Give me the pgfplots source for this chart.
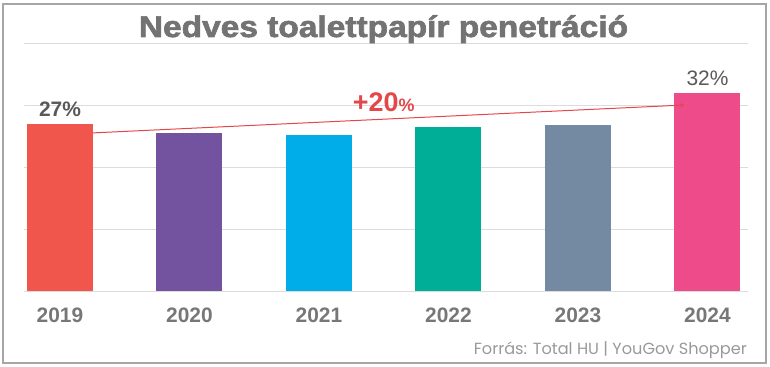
\documentclass[border=0pt]{standalone}
\usepackage{pgfplots}
\pgfplotsset{compat=1.18}
\usepackage{fontspec}
\setmainfont{Liberation Sans}
\newfontfamily\titlefont[FakeBold=2]{Liberation Sans Bold}
\newfontfamily\srcfont{Poppins}
\usetikzlibrary{arrows.meta}
\definecolor{c2019}{HTML}{F0564C}
\definecolor{c2020}{HTML}{7352A0}
\definecolor{c2021}{HTML}{00ADE8}
\definecolor{c2022}{HTML}{00AE98}
\definecolor{c2023}{HTML}{7489A2}
\definecolor{c2024}{HTML}{EE4B8A}
\definecolor{redline}{HTML}{E4474A}
\definecolor{gridc}{HTML}{DCDCDC}
\definecolor{titlec}{HTML}{737373}
\definecolor{yearc}{HTML}{777777}
\definecolor{valc}{HTML}{595959}
\definecolor{srcc}{HTML}{999999}
\definecolor{borderc}{HTML}{A6A6A6}
\begin{document}
\begin{tikzpicture}
\useasboundingbox (0,0) rectangle (770bp,367bp);
\draw[borderc, line width=1.5bp] (3bp,4bp) rectangle (766bp,363bp);
\begin{axis}[
  at={(24bp,76bp)}, anchor=south west,
  scale only axis, width=724bp, height=248bp,
  xmin=-0.278, xmax=5.313, ymin=0, ymax=40,
  axis line style={draw=none}, major tick length=0pt,
  ytick={0,10,20,30,40}, yticklabels={},
  ymajorgrids, grid style={draw=gridc, line width=0.9bp},
  xtick={0,1,2,3,4,5},
  xticklabels={2019,2020,2021,2022,2023,2024},
  xticklabel style={font=\fontsize{21}{21}\selectfont\bfseries, text=yearc, inner sep=0pt, anchor=north, yshift=-17bp},
  clip=false,
  every node near coord/.style={anchor=south, inner sep=0pt, yshift=7bp, font=\fontsize{21}{21}\selectfont, text=valc},
]
\addplot[ybar, bar width=66bp, bar shift=0pt, fill=c2019, draw=none,
  nodes near coords={\textbf{27\%}}] coordinates {(0,27)};
\addplot[ybar, bar width=66bp, bar shift=0pt, fill=c2020, draw=none] coordinates {(1,25.5)};
\addplot[ybar, bar width=66bp, bar shift=0pt, fill=c2021, draw=none] coordinates {(2,25.2)};
\addplot[ybar, bar width=66bp, bar shift=0pt, fill=c2022, draw=none] coordinates {(3,26.45)};
\addplot[ybar, bar width=66bp, bar shift=0pt, fill=c2023, draw=none] coordinates {(4,26.85)};
\addplot[ybar, bar width=66bp, bar shift=0pt, fill=c2024, draw=none,
  nodes near coords={32\%}] coordinates {(5,32)};
\addplot[redline, line width=1bp, -{Stealth[length=4bp,width=4bp]}] coordinates {(0.255,25.5) (4.82,30.0)};
\node[anchor=base, inner sep=0pt, text=redline] at (axis cs:2.5,28.9)
  {\bfseries\fontsize{27}{27}\selectfont +20{\fontsize{18}{18}\selectfont\%}};
\end{axis}
\node[anchor=base, inner sep=0pt, text=titlec] at (383.5bp,330bp)
  {\scalebox{1.12}[1]{\titlefont\fontsize{30}{30}\selectfont Nedves toalettpapír penetráció}};
\node[anchor=base east, inner sep=0pt, text=srcc] at (747bp,12bp)
  {\resizebox{273bp}{!}{\srcfont\fontsize{15}{15}\selectfont Forrás: Total HU | YouGov Shopper}};
\end{tikzpicture}
\end{document}
